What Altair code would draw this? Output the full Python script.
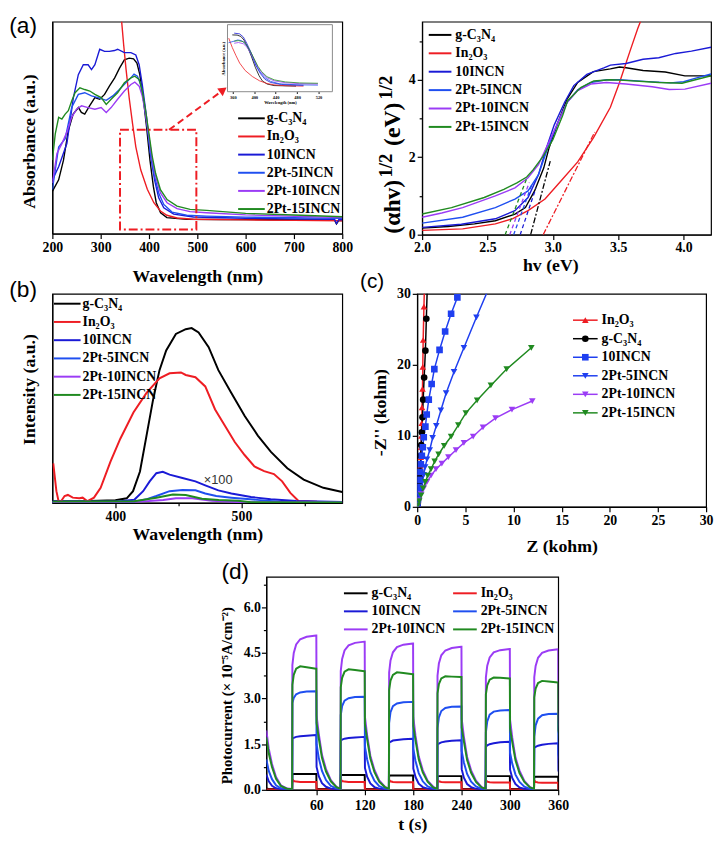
import altair as alt
import pandas as pd

SERIF = "Liberation Serif"
SANS = "Liberation Sans"

NAMES = ["g-C₃N₄", "In₂O₃", "10INCN", "2Pt-5INCN", "2Pt-10INCN", "2Pt-15INCN"]
COLORS = ["#000000", "#ee1d23", "#1a1ad6", "#1f4ff0", "#9b3cf5", "#208a20"]
RED = "#ee1d23"

# ---------------- (a) UV-vis absorbance ----------------
UV_WL_GCN = [200, 213, 223, 233, 243, 254, 260, 267, 277, 288, 298, 308, 318, 329, 339, 349, 359, 368, 375, 381,
             388, 395, 402, 409, 415, 424, 437, 478, 550, 650, 750, 784, 788, 793, 800]
UV_GCN = [20, 25.4, 34.7, 48.7, 56.4, 59.5, 57.2, 56.4, 60.3, 64.2, 63.4, 65.7, 69.6, 73.5, 78.1, 82, 82.8, 82.5, 80.5, 75,
          64.2, 50.2, 34.7, 22.3, 14.6, 9.9, 7.6, 6.8, 6.7, 6.6, 6.5, 6.4, 4.6, 6.3, 6.2]
UV_WL_IN = [326, 343.5, 347.6, 352.3, 359, 366, 372.7, 383, 396.5, 410, 423.7, 437, 458, 492, 600, 700, 800]
UV_IN = [150, 99.8, 89, 78, 64, 51.8, 41, 30, 21, 14.6, 10.7, 8.7, 7.4, 6.8, 6.5, 6.3, 6.1]
UV_WL_10 = [200, 213, 230, 243.5, 253.7, 264, 274, 281, 288, 298, 308, 318, 328.6, 335, 349, 362.5, 372.7, 379.6, 386, 395,
            403, 411.5, 420, 430.6, 451, 492, 600, 700, 784, 788, 793, 800]
UV_10 = [25.4, 31.6, 42.5, 64.2, 75, 79.7, 79.7, 77.4, 79.7, 87, 86, 86, 86.4, 87, 85.4, 85.4, 84.3, 79.7, 70.4, 54.9,
         37.8, 25.4, 16.9, 12.2, 9.2, 7.9, 7.3, 7.0, 6.8, 4.8, 6.7, 6.6]
UV_WL_5 = [200, 213, 226.5, 240, 253.7, 267, 281, 294.5, 311.5, 325, 338.8, 352, 362.5, 369, 376, 383, 390, 396.5, 403, 410,
           420, 430.6, 447.6, 478, 519, 600, 700, 800]
UV_5 = [20.8, 40.9, 44.8, 59.5, 65.7, 66.5, 65, 64.2, 62.9, 65, 68, 71.2, 73.5, 75.3, 74.3, 70.4, 61, 50.2, 37.8, 28.5,
        19.2, 13.8, 10.2, 8.7, 8.3, 7.8, 7.5, 7.2]
UV_WL_P10 = [200, 209.5, 219.7, 230, 240, 250, 260.4, 274, 288, 301, 311.5, 321.6, 335, 349, 362.5, 370.6, 379.6, 386, 393, 400,
             406.8, 413.6, 423.7, 437.4, 458, 485, 519, 600, 700, 800]
UV_P10 = [23.9, 37.8, 42.5, 47.9, 54.9, 58.7, 60.3, 59.5, 58.7, 59.5, 57.2, 59.5, 63.4, 67.3, 70.4, 71.5, 69.6, 65, 56.4, 45.6,
          34.7, 27, 19.2, 14.6, 11.8, 10.4, 9.9, 8.9, 8.2, 7.6]
UV_WL_P15 = [200, 206, 213, 219.7, 226.5, 233, 240, 247, 257, 267, 277.5, 288, 301, 311.5, 321.6, 335, 349, 362.5, 370.6, 379.6,
             386, 393, 400, 406.8, 413.6, 423.7, 437.4, 458, 485, 519, 600, 700, 800]
UV_P15 = [34.7, 47.1, 54.9, 54.1, 56.4, 58, 62.6, 66.5, 68.8, 68, 67.3, 65.7, 64.2, 61, 63.4, 66.5, 71.2, 73.5, 74.3, 72.7,
          67.3, 58, 47.1, 36.3, 28.5, 20.8, 16.1, 13, 11.5, 11, 9.6, 8.8, 8.0]
ZOOM_BOX = [340, 498, 2, 49]          # wavelength from/to, absorbance from/to
ZOOM_ARROW = [441.5, 49, 553.7, 67.8]  # start wl, start abs, end wl, end abs
INSET_WL = [350, 546]
INSET_ABS = [-1.5, 98]
INSET_TICKS = [360, 380, 400, 420, 440, 460, 480, 500, 520, 540]

# ---------------- (a) Tauc plot ----------------
TC_X_GCN = [2.0, 2.2, 2.4, 2.56, 2.71, 2.79, 2.86, 2.93, 2.97, 3.04, 3.11, 3.19, 3.31, 3.44, 3.51, 3.56, 3.69, 3.86, 4.01, 4.21]
TC_GCN = [0.17, 0.21, 0.28, 0.36, 0.53, 0.70, 1.13, 1.72, 2.23, 2.91, 3.51, 3.93, 4.21, 4.28, 4.33, 4.31, 4.24, 4.20, 4.10, 4.10]
TC_X_IN = [2.0, 2.31, 2.56, 2.69, 2.81, 2.94, 3.06, 3.19, 3.31, 3.44, 3.51, 3.59, 3.65, 3.68, 3.74]
TC_IN = [0.11, 0.15, 0.28, 0.41, 0.62, 0.92, 1.38, 1.88, 2.5, 3.29, 3.93, 4.74, 5.33, 5.59, 6.3]
TC_X_10 = [2.0, 2.3, 2.56, 2.71, 2.81, 2.89, 2.95, 3.01, 3.09, 3.16, 3.26, 3.39, 3.44, 3.56, 3.69, 3.81, 3.94, 4.06, 4.21]
TC_10 = [0.19, 0.27, 0.41, 0.62, 0.96, 1.55, 2.23, 2.83, 3.42, 3.85, 4.14, 4.31, 4.38, 4.42, 4.53, 4.57, 4.68, 4.74, 4.84]
TC_X_5 = [2.0, 2.31, 2.56, 2.71, 2.81, 2.89, 2.96, 3.04, 3.11, 3.19, 3.29, 3.41, 3.51, 3.7, 3.9, 4.0, 4.1, 4.21]
TC_5 = [0.30, 0.45, 0.70, 0.92, 1.13, 1.55, 2.23, 2.91, 3.42, 3.74, 3.93, 4.0, 4.0, 3.96, 3.92, 3.95, 4.05, 4.15]
TC_X_P10 = [2.0, 2.15, 2.31, 2.56, 2.71, 2.81, 2.89, 2.96, 3.04, 3.11, 3.19, 3.29, 3.41, 3.56, 3.76, 3.89, 4.01, 4.21]
TC_P10 = [0.45, 0.56, 0.70, 1.0, 1.21, 1.47, 1.81, 2.32, 2.91, 3.42, 3.72, 3.89, 3.93, 3.89, 3.82, 3.75, 3.76, 3.91]
TC_X_P15 = [2.0, 2.225, 2.475, 2.625, 2.725, 2.8, 2.85, 2.925, 3.0, 3.075, 3.113, 3.213, 3.313, 3.438, 3.513, 3.813, 3.988, 4.113, 4.21]
TC_P15 = [0.535, 0.70, 0.96, 1.17, 1.34, 1.49, 1.68, 2.02, 2.45, 3.08, 3.46, 3.80, 3.97, 4.0, 3.99, 3.93, 3.91, 4.02, 4.10]
TG_X0 = [2.83, 2.926, 2.75, 2.70, 2.67, 2.635]
TG_X1 = [2.98, 3.32, 2.87, 2.84, 2.82, 2.80]
TG_Y1 = [1.9, 2.65, 1.2, 1.3, 1.35, 1.45]
TG_STYLE = ["dashdot", "dashdot", "dash", "dash", "dash", "dash"]

# ---------------- (b) PL spectra ----------------
PL_X_GCN = [350, 380, 400, 409, 414, 419.5, 424.7, 429.9, 435, 440.3, 448, 455.8, 460.5, 466, 474, 481.7, 492, 502.6, 513, 523.4,
            536.4, 549.4, 565, 580]
PL_GCN = [0.8, 0.9, 1.3, 2.2, 5.6, 15, 32.2, 49.4, 63.5, 72.9, 80.8, 83.1, 83.6, 81.5, 74.5, 63.5, 52.6, 41.6, 32.2, 24.4,
          16.6, 11.1, 7.2, 5.2]
PL_X_IN = [350.7, 353.2, 355, 357, 359.7, 362.3, 366.2, 371.4, 374, 377.9, 383, 388.3, 396.1, 403.9, 414.3, 424.7, 435, 443, 452, 455.8,
           463.5, 471.3, 479.1, 486.9, 494.7, 502.5, 510.3, 518, 525.8, 532.3, 538.8, 545.3, 560, 580]
PL_IN = [18.9, 5.6, 0.6, 0.9, 3.3, 3.8, 2.5, 2.2, 2.5, 0.8, 2.5, 7.2, 19.7, 30.7, 43.2, 52.6, 59.6, 62, 62.4, 61.2,
         60.1, 55.7, 44.7, 36.9, 29.1, 22.9, 17.4, 15.2, 13.8, 10.3, 4.8, 0.9, 0.5, 0.4]
PL_X_10 = [350, 400, 415, 422, 427.2, 432.5, 437.6, 443, 453.2, 463.5, 471.3, 481.7, 492, 507.6, 523.2, 543.5, 580]
PL_10 = [0.5, 0.6, 1.5, 5.6, 10.3, 14.2, 14.9, 13.5, 11.9, 10.3, 8.4, 6.0, 4.5, 2.8, 1.7, 0.9, 0.4]
PL_X_5 = [350, 415, 425, 432.5, 443, 453.2, 463.5, 471.3, 480, 492, 507, 530, 580]
PL_5 = [0.5, 0.6, 1.8, 3.3, 5.6, 6.2, 6.0, 4.5, 3.3, 2.5, 1.7, 0.6, 0.3]
PL_X_P10 = [350, 420, 438, 448, 461, 476.5, 500, 580]
PL_P10 = [0.4, 0.6, 1.4, 2.2, 2.2, 1.0, 0.3, 0.2]
PL_X_P15 = [350, 415, 432.5, 445.6, 455.8, 468.7, 482, 497.3, 507.6, 580]
PL_P15 = [0.6, 0.8, 2.5, 4.0, 3.8, 2.0, 1.4, 1.0, 0.3, 0.2]
PL_NOTE = ["×100", 481.5, 9.0]

# ---------------- (c) EIS Nyquist ----------------
EIS_NAMES = ["In₂O₃", "g-C₃N₄", "10INCN", "2Pt-5INCN", "2Pt-10INCN", "2Pt-15INCN"]
EIS_COLORS = ["#ee1d23", "#000000", "#1f3ff0", "#1f3ff0", "#9b3cf5", "#208a20"]
EIS_SHAPES = ["triangle-up", "circle", "square", "triangle-down", "triangle-down", "triangle-down"]
EIS_X_IN = [0.05, 0.1, 0.15, 0.2, 0.23, 0.27, 0.3, 0.33, 0.37, 0.4, 0.43, 0.47, 0.5, 0.55, 0.58, 0.62, 0.7, 0.76]
EIS_IN = [0.3, 0.9, 1.6, 2.4, 3.1, 3.9, 4.8, 5.8, 7.0, 8.4, 10.0, 11.8, 14.0, 16.6, 19.7, 23.5, 28.2, 31.5]
EIS_X_GCN = [0.04, 0.08, 0.13, 0.18, 0.22, 0.26, 0.3, 0.33, 0.37, 0.42, 0.48, 0.55, 0.62, 0.72, 0.85, 0.95, 1.06]
EIS_GCN = [0.3, 0.9, 1.7, 2.5, 3.3, 4.1, 5.0, 6.0, 7.2, 8.7, 10.5, 12.6, 15.1, 18.2, 22.0, 26.5, 31.5]
EIS_X_10 = [0.03, 0.07, 0.1, 0.17, 0.24, 0.31, 0.38, 0.48, 0.58, 0.68, 0.85, 0.99, 1.2, 1.5, 1.78, 2.32, 2.9, 3.52, 4.17]
EIS_10 = [0.2, 1.0, 1.9, 2.8, 3.8, 4.9, 6.0, 7.2, 8.4, 9.8, 11.3, 13.0, 15.1, 17.3, 19.4, 22.1, 24.7, 27.2, 29.5]
EIS_X_5 = [0.07, 0.17, 0.27, 0.41, 0.55, 0.68, 0.82, 1.02, 1.3, 1.6, 1.98, 2.46, 3.0, 3.82, 4.85, 6.15, 7.5]
EIS_5 = [0.2, 0.8, 1.6, 2.6, 3.5, 4.5, 5.6, 6.7, 8.0, 9.7, 11.4, 13.6, 16.0, 19.0, 22.4, 26.7, 31.0]
EIS_X_P10 = [0.07, 0.2, 0.41, 0.68, 1.02, 1.43, 1.95, 2.56, 3.24, 4.03, 4.85, 5.81, 6.83, 8.13, 9.84, 11.95]
EIS_P10 = [0.2, 0.9, 1.8, 2.6, 3.5, 4.4, 5.3, 6.1, 7.0, 8.0, 9.0, 9.9, 11.2, 12.5, 13.7, 14.9]
EIS_X_P15 = [0.07, 0.2, 0.41, 0.61, 0.85, 1.09, 1.43, 1.81, 2.22, 2.8, 3.52, 4.27, 5.05, 6.22, 7.65, 9.29, 11.85]
EIS_P15 = [0.2, 0.8, 1.6, 2.6, 3.5, 4.4, 5.3, 6.4, 7.4, 8.6, 9.9, 11.5, 13.2, 15.0, 17.1, 19.4, 22.4]

# ---------------- (d) transient photocurrent ----------------
PC_T_INIT = [-2, 1, 5, 10, 16, 24]
PC_ON = [30, 90, 150, 210, 270, 330]
PC_OFFSETS = [0, 0.3, 2, 5, 10, 18, 29.7, 30, 30.3, 33, 37, 42, 48, 55]
PC_GCN_INIT = [0.04, 0.03, 0.03, 0.03, 0.03, 0.03]
PC_GCN = [
    [0.03, 0.51, 0.52, 0.52, 0.52, 0.52, 0.52, 0.52, 0.04, 0.03, 0.03, 0.03, 0.03, 0.03],
    [0.03, 0.48, 0.49, 0.49, 0.49, 0.49, 0.49, 0.49, 0.04, 0.03, 0.03, 0.03, 0.03, 0.03],
    [0.03, 0.46, 0.47, 0.47, 0.47, 0.47, 0.47, 0.47, 0.04, 0.03, 0.03, 0.03, 0.03, 0.03],
    [0.03, 0.44, 0.45, 0.45, 0.45, 0.45, 0.45, 0.45, 0.04, 0.03, 0.03, 0.03, 0.03, 0.03],
    [0.03, 0.44, 0.45, 0.45, 0.45, 0.45, 0.45, 0.45, 0.04, 0.03, 0.03, 0.03, 0.03, 0.03],
    [0.03, 0.42, 0.43, 0.43, 0.43, 0.43, 0.43, 0.43, 0.04, 0.03, 0.03, 0.03, 0.03, 0.03]]
PC_IN_INIT = [0.01, 0.01, 0.01, 0.01, 0.01, 0.01]
PC_IN = [
    [0.01, 0.34, 0.29, 0.27, 0.26, 0.26, 0.26, 0.26, 0.01, 0.01, 0.01, 0.01, 0.01, 0.01],
    [0.01, 0.34, 0.29, 0.27, 0.26, 0.26, 0.26, 0.26, 0.01, 0.01, 0.01, 0.01, 0.01, 0.01],
    [0.01, 0.33, 0.28, 0.26, 0.25, 0.25, 0.25, 0.25, 0.01, 0.01, 0.01, 0.01, 0.01, 0.01],
    [0.01, 0.33, 0.28, 0.26, 0.25, 0.25, 0.25, 0.25, 0.01, 0.01, 0.01, 0.01, 0.01, 0.01],
    [0.01, 0.32, 0.27, 0.25, 0.24, 0.24, 0.24, 0.24, 0.01, 0.01, 0.01, 0.01, 0.01, 0.01],
    [0.01, 0.31, 0.26, 0.24, 0.23, 0.23, 0.23, 0.23, 0.01, 0.01, 0.01, 0.01, 0.01, 0.01]]
PC_10_INIT = [0.5, 0.28, 0.13, 0.05, 0.02, 0.01]
PC_10 = [
    [0.01, 1.68, 1.71, 1.74, 1.76, 1.78, 1.80, 1.80, 0.75, 0.45, 0.22, 0.10, 0.04, 0.01],
    [0.01, 1.62, 1.65, 1.68, 1.70, 1.72, 1.74, 1.74, 0.72, 0.43, 0.21, 0.09, 0.04, 0.01],
    [0.01, 1.55, 1.58, 1.62, 1.64, 1.66, 1.68, 1.68, 0.70, 0.42, 0.20, 0.09, 0.04, 0.01],
    [0.01, 1.48, 1.52, 1.56, 1.59, 1.61, 1.63, 1.63, 0.68, 0.40, 0.19, 0.09, 0.03, 0.01],
    [0.01, 1.42, 1.46, 1.50, 1.53, 1.56, 1.58, 1.58, 0.66, 0.39, 0.19, 0.08, 0.03, 0.01],
    [0.01, 1.38, 1.41, 1.45, 1.48, 1.51, 1.53, 1.53, 0.64, 0.38, 0.18, 0.08, 0.03, 0.01]]
PC_5_INIT = [1.0, 0.62, 0.35, 0.15, 0.05, 0.02]
PC_5 = [
    [0.02, 2.85, 3.02, 3.14, 3.20, 3.23, 3.24, 3.24, 1.50, 1.05, 0.62, 0.32, 0.13, 0.04],
    [0.02, 2.45, 2.75, 2.93, 3.01, 3.05, 3.06, 3.06, 1.42, 1.00, 0.58, 0.30, 0.12, 0.04],
    [0.02, 2.20, 2.55, 2.75, 2.84, 2.88, 2.89, 2.89, 1.35, 0.95, 0.55, 0.28, 0.11, 0.04],
    [0.02, 2.03, 2.38, 2.59, 2.69, 2.73, 2.74, 2.74, 1.28, 0.90, 0.52, 0.27, 0.11, 0.03],
    [0.02, 1.89, 2.25, 2.47, 2.57, 2.61, 2.62, 2.62, 1.22, 0.86, 0.50, 0.26, 0.10, 0.03],
    [0.02, 1.75, 2.12, 2.34, 2.45, 2.49, 2.50, 2.50, 1.17, 0.82, 0.48, 0.25, 0.10, 0.03]]
PC_P10_INIT = [1.95, 1.35, 0.85, 0.42, 0.15, 0.04]
PC_P10 = [
    [0.03, 4.10, 4.50, 4.78, 4.95, 5.03, 5.07, 5.07, 2.45, 1.85, 1.15, 0.68, 0.32, 0.10],
    [0.03, 3.90, 4.30, 4.58, 4.75, 4.83, 4.87, 4.87, 2.40, 1.80, 1.12, 0.66, 0.31, 0.10],
    [0.03, 3.85, 4.25, 4.52, 4.69, 4.77, 4.81, 4.81, 2.38, 1.78, 1.10, 0.65, 0.30, 0.10],
    [0.03, 3.75, 4.15, 4.42, 4.58, 4.66, 4.70, 4.70, 2.33, 1.75, 1.08, 0.64, 0.30, 0.09],
    [0.03, 3.70, 4.08, 4.35, 4.52, 4.59, 4.63, 4.63, 2.30, 1.72, 1.06, 0.63, 0.29, 0.09],
    [0.03, 3.70, 4.07, 4.34, 4.50, 4.58, 4.62, 4.62, 2.30, 1.70, 1.05, 0.62, 0.29, 0.09]]
PC_P15_INIT = [1.72, 1.2, 0.75, 0.36, 0.13, 0.03]
PC_P15 = [
    [0.03, 3.45, 3.78, 3.98, 4.06, 4.03, 3.98, 3.98, 2.20, 1.70, 1.05, 0.60, 0.28, 0.09],
    [0.03, 3.37, 3.68, 3.88, 3.96, 3.94, 3.90, 3.90, 2.15, 1.67, 1.03, 0.59, 0.27, 0.09],
    [0.03, 3.28, 3.59, 3.78, 3.86, 3.84, 3.80, 3.80, 2.10, 1.63, 1.00, 0.57, 0.27, 0.08],
    [0.03, 3.17, 3.47, 3.66, 3.73, 3.72, 3.71, 3.71, 2.05, 1.59, 0.98, 0.56, 0.26, 0.08],
    [0.03, 3.14, 3.43, 3.62, 3.69, 3.68, 3.66, 3.66, 2.02, 1.57, 0.97, 0.55, 0.26, 0.08],
    [0.03, 3.04, 3.33, 3.51, 3.58, 3.56, 3.53, 3.53, 1.95, 1.52, 0.94, 0.54, 0.25, 0.08]]


# ---------------- helpers ----------------
def long_df(names, xs, ys):
    rows = []
    for n, xa, ya in zip(names, xs, ys):
        for i, (a, b) in enumerate(zip(xa, ya)):
            rows.append({"series": n, "x": a, "y": b, "i": i})
    return pd.DataFrame(rows)


def tick_axis(values, test, fmt=None, **kw):
    props = dict(values=values, grid=False, labelFlush=False, labelOverlap=False,
                 tickSize={"condition": {"test": test, "value": 5}, "value": 3},
                 labelExpr="(" + test + ") ? datum.label : ''")
    if fmt is not None:
        props["format"] = fmt
    props.update(kw)
    return alt.Axis(**props)


def legend_layer(names, colors, x0, y0, step, line_len, gap, shapes=None, cols=1, col_step=1.0, sw=2.0):
    n = len(names)
    df = pd.DataFrame({"name": names,
                       "row": [i // cols for i in range(n)],
                       "col": [i % cols for i in range(n)]})
    nrow = (n - 1) // cols
    ysc = alt.Scale(domain=[0, nrow], range=[y0, y0 + step * nrow], nice=False, zero=False)
    xsc = alt.Scale(domain=[0, 1], range=[x0, x0 + col_step], nice=False, zero=False)
    X = alt.X("col:Q", scale=xsc, axis=None)
    Y = alt.Y("row:Q", scale=ysc, axis=None)
    C = alt.Color("name:N", scale=alt.Scale(domain=names, range=colors), legend=None)
    base = alt.Chart(df)
    layers = [
        base.mark_rule(strokeWidth=sw, x2Offset=line_len).encode(x=X, x2="col:Q", y=Y, color=C),
        base.mark_text(align="left", baseline="middle", dx=line_len + gap, font=SERIF, fontWeight="bold",
                       fontSize=14, color="black").encode(x=X, y=Y, text="name:N"),
    ]
    if shapes:
        layers.append(base.mark_point(filled=True, size=45, opacity=1, xOffset=line_len / 2).encode(
            x=X, y=Y, color=C,
            shape=alt.Shape("name:N", scale=alt.Scale(domain=names, range=shapes), legend=None)))
    return alt.layer(*layers)


def panel_label(txt, x, y, size=23):
    return alt.Chart(pd.DataFrame({"t": [txt]})).mark_text(
        font=SANS, fontSize=size, align="left", baseline="top", color="black"
    ).encode(text="t:N", x=alt.value(x), y=alt.value(y))


IND = dict(x="independent", y="independent", color="independent", shape="independent")

# ---------------- panel (a) left ----------------
df_uv = long_df(NAMES, [UV_WL_GCN, UV_WL_IN, UV_WL_10, UV_WL_5, UV_WL_P10, UV_WL_P15],
                [UV_GCN, UV_IN, UV_10, UV_5, UV_P10, UV_P15])
sx_a = alt.Scale(domain=[200, 800], nice=False)
sy_a = alt.Scale(domain=[0, 100], nice=False)

a_lines = alt.Chart(df_uv).mark_line(strokeWidth=1.4, clip=True).encode(
    x=alt.X("x:Q", scale=sx_a, axis=tick_axis(list(range(200, 801, 50)), "datum.value % 100 === 0",
                                               title="Wavelength (nm)", labelPadding=2, titlePadding=13)),
    y=alt.Y("y:Q", scale=sy_a, axis=alt.Axis(labels=False, ticks=False, grid=False,
                                              title="Absorbance (a.u.)", titlePadding=14, titleY=121)),
    color=alt.Color("series:N", scale=alt.Scale(domain=NAMES, range=COLORS), legend=None),
    order="i:Q")

box_df = pd.DataFrame({"x0": [ZOOM_BOX[0]], "x1": [ZOOM_BOX[1]], "y0": [ZOOM_BOX[2]], "y1": [ZOOM_BOX[3]]})
a_box = alt.Chart(box_df).mark_rect(fillOpacity=0, stroke=RED, strokeWidth=2, strokeDash=[9, 3, 2, 3]).encode(
    x=alt.X("x0:Q", scale=sx_a), x2="x1:Q", y=alt.Y("y0:Q", scale=sy_a), y2="y1:Q")
arr_df = pd.DataFrame({"x0": [ZOOM_ARROW[0]], "y0": [ZOOM_ARROW[1]], "x1": [ZOOM_ARROW[2]], "y1": [ZOOM_ARROW[3]]})
a_arrow = alt.Chart(arr_df).mark_rule(color=RED, strokeWidth=2, strokeDash=[7, 4]).encode(
    x=alt.X("x0:Q", scale=sx_a), x2="x1:Q", y=alt.Y("y0:Q", scale=sy_a), y2="y1:Q")
a_head = alt.Chart(arr_df).mark_point(shape="triangle-up", filled=True, size=90, color=RED, opacity=1,
                                      angle=54).encode(
    x=alt.X("x1:Q", scale=sx_a), y=alt.Y("y1:Q", scale=sy_a))
a_main = alt.layer(a_lines, a_box, a_arrow, a_head)

sx_i = alt.Scale(domain=INSET_WL, range=[177.6, 284], nice=False)
sy_i = alt.Scale(domain=INSET_ABS, range=[71, 3], nice=False)
fr_df = pd.DataFrame({"x0": [INSET_WL[0]], "x1": [INSET_WL[1]], "y0": [INSET_ABS[0]], "y1": [INSET_ABS[1]]})
i_frame = alt.Chart(fr_df).mark_rect(fillOpacity=0, stroke="#8a8a8a", strokeWidth=1).encode(
    x=alt.X("x0:Q", scale=sx_i, axis=alt.Axis(values=INSET_TICKS, orient="bottom", offset=-144, grid=False,
                                              labelFontSize=4.5, titleFontSize=4.5, tickSize=1.5, labelPadding=1,
                                              titlePadding=1, domain=False, labelFlush=False, labelOverlap=False,
                                              title="Wavelength (nm)")),
    x2="x1:Q",
    y=alt.Y("y0:Q", scale=sy_i, axis=alt.Axis(orient="left", offset=-177.6, labels=False, ticks=False,
                                              domain=False, grid=False, title="Absorbance (a.u.)",
                                              titleFontSize=4.5, titlePadding=2)),
    y2="y1:Q")
i_lines = alt.Chart(df_uv).transform_filter(
    "datum.x >= 350 && datum.x <= 546").mark_line(strokeWidth=0.8).encode(
    x=alt.X("x:Q", scale=sx_i), y=alt.Y("y:Q", scale=sy_i),
    color=alt.Color("series:N", scale=alt.Scale(domain=NAMES, range=COLORS), legend=None),
    order="i:Q")
a_inset = alt.layer(i_frame, i_lines)

A1 = alt.layer(
    a_main, a_inset,
    legend_layer(NAMES, COLORS, 188.4, 98, 18.4, 27, 2),
    panel_label("(a)", -43.7, -7),
).resolve_scale(**IND).properties(width=294, height=215)

# ---------------- panel (a) right ----------------
df_tc = long_df(NAMES, [TC_X_GCN, TC_X_IN, TC_X_10, TC_X_5, TC_X_P10, TC_X_P15],
                [TC_GCN, TC_IN, TC_10, TC_5, TC_P10, TC_P15])
df_tg = pd.DataFrame({"series": NAMES, "x0": TG_X0, "x1": TG_X1, "y0": [0] * 6, "y1": TG_Y1, "style": TG_STYLE})
sx_t = alt.Scale(domain=[2.0, 4.21], nice=False)
sy_t = alt.Scale(domain=[0, 5.5], nice=False)
col_t = alt.Color("series:N", scale=alt.Scale(domain=NAMES, range=COLORS), legend=None)
t_lines = alt.Chart(df_tc).mark_line(strokeWidth=1.4, clip=True).encode(
    x=alt.X("x:Q", scale=sx_t, axis=tick_axis([2.0, 2.25, 2.5, 2.75, 3.0, 3.25, 3.5, 3.75, 4.0],
                                               "(datum.value * 2) % 1 === 0", fmt=".1f", title="hv (eV)",
                                               labelPadding=1, titlePadding=2, titleX=130)),
    y=alt.Y("y:Q", scale=sy_t, axis=tick_axis([0, 1, 2, 3, 4, 5], "datum.value % 2 === 0", fmt="d",
                                               title=None, labelPadding=2)),
    color=col_t, order="i:Q")
t_tan = alt.Chart(df_tg).mark_rule(strokeWidth=1.3, clip=True).encode(
    x=alt.X("x0:Q", scale=sx_t), x2="x1:Q", y=alt.Y("y0:Q", scale=sy_t), y2="y1:Q",
    color=col_t,
    strokeDash=alt.StrokeDash("style:N", scale=alt.Scale(domain=["dashdot", "dash"],
                                                         range=[[6, 2, 2, 2], [4, 3]]), legend=None))


def ytitle_piece(txt, x, y, size):
    return alt.Chart(pd.DataFrame({"t": [txt]})).mark_text(
        font=SERIF, fontWeight="bold", fontSize=size, angle=270, align="left", baseline="middle",
        color="black").encode(text="t:N", x=alt.value(x), y=alt.value(y))


a2_data = alt.layer(
    t_lines, t_tan,
    ytitle_piece("(αhv)", -29, 215, 24),
    ytitle_piece("1/2", -37, 158, 19),
    ytitle_piece("(eV)", -29, 126, 24),
    ytitle_piece("1/2", -37, 79, 19),
)
A2 = alt.layer(a2_data, legend_layer(NAMES, COLORS, 6.7, 13.4, 18.66, 23, 4)).resolve_scale(
    **IND).properties(width=293, height=216)

# ---------------- panel (b) ----------------
df_pl = long_df(NAMES, [PL_X_GCN, PL_X_IN, PL_X_10, PL_X_5, PL_X_P10, PL_X_P15],
                [PL_GCN, PL_IN, PL_10, PL_5, PL_P10, PL_P15])
sx_b = alt.Scale(domain=[350, 580], nice=False)
sy_b = alt.Scale(domain=[0, 100], nice=False)
b_lines = alt.Chart(df_pl).mark_line(strokeWidth=2, clip=True).encode(
    x=alt.X("x:Q", scale=sx_b, axis=tick_axis([400, 450, 500, 550], "datum.value % 100 === 0",
                                               title="Wavelength (nm)", labelPadding=2, titlePadding=2)),
    y=alt.Y("y:Q", scale=sy_b, axis=alt.Axis(labels=False, ticks=False, grid=False,
                                              title="Intensity (a.u.)", titlePadding=14, titleY=96.5)),
    color=alt.Color("series:N", scale=alt.Scale(domain=NAMES, range=COLORS), legend=None),
    order="i:Q")
b_note = alt.Chart(pd.DataFrame({"t": [PL_NOTE[0]], "x": [PL_NOTE[1]], "y": [PL_NOTE[2]]})).mark_text(
    font=SANS, fontSize=13, color="#333333", baseline="alphabetic").encode(
    text="t:N", x=alt.X("x:Q", scale=sx_b), y=alt.Y("y:Q", scale=sy_b))
b_data = alt.layer(b_lines, b_note)
B = alt.layer(
    b_data,
    legend_layer(NAMES, COLORS, 1.6, 10, 18.5, 27, 2),
    panel_label("(b)", -43.7, -15),
).resolve_scale(**IND).properties(width=294, height=212)

# ---------------- panel (c) ----------------
df_c = long_df(EIS_NAMES, [EIS_X_IN, EIS_X_GCN, EIS_X_10, EIS_X_5, EIS_X_P10, EIS_X_P15],
               [EIS_IN, EIS_GCN, EIS_10, EIS_5, EIS_P10, EIS_P15])
sx_c = alt.Scale(domain=[0, 30], nice=False)
sy_c = alt.Scale(domain=[0, 30], nice=False)
c_vals = [0, 2.5, 5, 7.5, 10, 12.5, 15, 17.5, 20, 22.5, 25, 27.5, 30]
c_col = alt.Color("series:N", scale=alt.Scale(domain=EIS_NAMES, range=EIS_COLORS), legend=None)
c_line = alt.Chart(df_c).mark_line(strokeWidth=1.5, clip=True).encode(
    x=alt.X("x:Q", scale=sx_c, axis=tick_axis(c_vals, "datum.value % 5 === 0", title="Z (kohm)",
                                               labelPadding=2, titlePadding=10)),
    y=alt.Y("y:Q", scale=sy_c, axis=tick_axis(c_vals, "datum.value % 5 === 0", title="-Z'' (kohm)",
                                               labelPadding=2, titlePadding=7, titleY=120)),
    color=c_col, order="i:Q")
c_pts = alt.Chart(df_c).mark_point(filled=True, size=45, opacity=1, clip=True).encode(
    x=alt.X("x:Q", scale=sx_c), y=alt.Y("y:Q", scale=sy_c), color=c_col,
    shape=alt.Shape("series:N", scale=alt.Scale(domain=EIS_NAMES, range=EIS_SHAPES), legend=None))
c_data = alt.layer(c_line, c_pts)
C = alt.layer(
    c_data,
    legend_layer(EIS_NAMES, EIS_COLORS, 158, 26.7, 18.8, 25, 4, shapes=EIS_SHAPES, sw=1.5),
    panel_label("(c)", -58, -23, 21),
).resolve_scale(**IND).properties(width=293, height=216)

# ---------------- panel (d) ----------------
pc_rows = []
for name, init, cycles in zip(NAMES, [PC_GCN_INIT, PC_IN_INIT, PC_10_INIT, PC_5_INIT, PC_P10_INIT, PC_P15_INIT],
                              [PC_GCN, PC_IN, PC_10, PC_5, PC_P10, PC_P15]):
    k = 0
    for t, v in zip(PC_T_INIT, init):
        pc_rows.append({"series": name, "x": t, "y": v, "i": k})
        k += 1
    for t_on, cyc in zip(PC_ON, cycles):
        for off, v in zip(PC_OFFSETS, cyc):
            pc_rows.append({"series": name, "x": t_on + off, "y": v, "i": k})
            k += 1
df_d = pd.DataFrame(pc_rows)
sx_d = alt.Scale(domain=[-2, 360], nice=False)
sy_d = alt.Scale(domain=[0, 7], nice=False)
d_lines = alt.Chart(df_d).mark_line(strokeWidth=2, clip=True).encode(
    x=alt.X("x:Q", scale=sx_d, axis=alt.Axis(values=[60, 120, 180, 240, 300, 360], format="d", grid=False,
                                              labelFlush=False, labelOverlap=False, tickSize=5,
                                              labelPadding=4, titlePadding=3, title="t (s)")),
    y=alt.Y("y:Q", scale=sy_d, axis=tick_axis([0, 0.75, 1.5, 2.25, 3.0, 3.75, 4.5, 5.25, 6.0, 6.75],
                                               "(datum.value / 1.5) % 1 === 0", fmt=".1f",
                                               title="Photocurrent (× 10⁻⁵A/cm⁻²)", titleFontSize=15,
                                               labelPadding=1, titlePadding=9, titleY=120)),
    color=alt.Color("series:N", scale=alt.Scale(domain=NAMES, range=COLORS), legend=None),
    order="i:Q")
D = alt.layer(
    d_lines,
    legend_layer(NAMES, COLORS, 78.7, 16.7, 18.3, 24, 4, cols=2, col_step=110.7),
    panel_label("(d)", -45.6, -16),
).resolve_scale(**IND).properties(width=296, height=216)

spacer = alt.Chart(pd.DataFrame({"a": [0]})).mark_point(opacity=0).encode(
    x=alt.value(0), y=alt.value(0)).properties(width=168, height=10, view=alt.ViewBackground(strokeOpacity=0))

RES = dict(color="independent", shape="independent")
row1 = alt.hconcat(A1, A2, spacing=22).resolve_scale(**RES)
row2 = alt.hconcat(B, C, spacing=16).resolve_scale(**RES)
row3 = alt.hconcat(spacer, D, spacing=0).resolve_scale(**RES)
top = alt.vconcat(row1, row2, spacing=-16).resolve_scale(**RES)
chart = alt.vconcat(top, row3, spacing=4).resolve_scale(**RES).properties(
    padding=0, background="white"
).configure_view(stroke="black", strokeWidth=1.2).configure_axis(
    domainColor="black", domainWidth=1.2, tickColor="black", tickWidth=1.2,
    labelFont=SERIF, labelFontWeight="bold", labelFontSize=14, labelColor="black",
    titleFont=SERIF, titleFontWeight="bold", titleFontSize=18, titleColor="black", grid=False
)

chart.save("out.html", embed_options={"renderer": "svg", "actions": False})
